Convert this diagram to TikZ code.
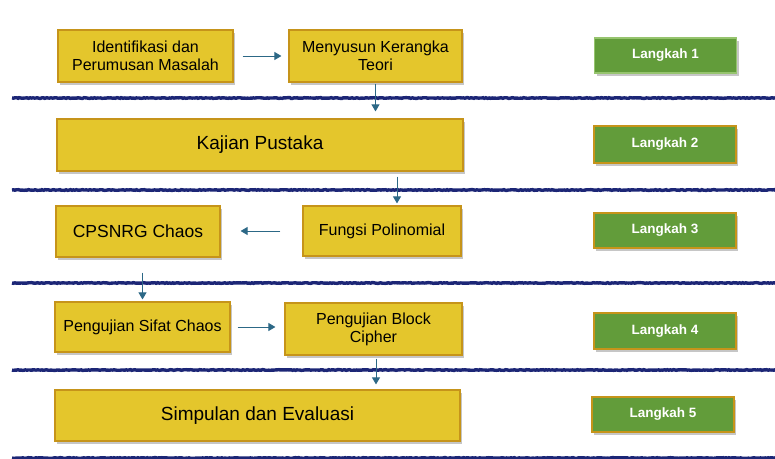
\documentclass[tikz,border=0pt]{standalone}
\usepackage{fontspec}
\setmainfont{Liberation Sans}
\usetikzlibrary{positioning,arrows.meta,shadows,decorations.pathmorphing}
\definecolor{kuning}{RGB}{228,198,44}
\definecolor{emas}{RGB}{198,148,26}
\definecolor{hijau}{RGB}{98,156,58}
\definecolor{hijaumuda}{RGB}{150,196,110}
\definecolor{panah}{RGB}{44,104,134}
\definecolor{garis}{RGB}{28,38,118}
\tikzset{
kotak/.style={
  draw=emas, fill=kuning, line width=1.2pt,
  align=center, inner sep=0pt,
  font=\fontsize{16}{18}\selectfont,
  drop shadow={shadow xshift=2pt, shadow yshift=-2.5pt, opacity=.45}
},
langkah/.style={
  kotak, fill=hijau, text=white,
  minimum width=142pt, minimum height=36pt,
  font=\fontsize{13.5}{16}\selectfont\bfseries
},
flow/.style={
  draw=panah, line width=1pt,
  -{Triangle[width=8pt,length=7pt]}
},
pemisah/.style={
  draw=garis, line width=3.4pt,
  decorate, decoration={random steps, segment length=1.5pt, amplitude=.35pt}
},
}

\begin{document}
\begin{tikzpicture}[x=1pt,y=-1pt]
\useasboundingbox (0,0) rectangle (775,458);
\foreach \y in {98,190,283,370,458}
  \draw[pemisah] (12,\y) -- (777,\y);

\node[kotak, minimum width=175pt, minimum height=52pt] (identifikasi) at (145.5,56) {Identifikasi dan\\Perumusan Masalah};
\node[kotak, minimum width=173pt, minimum height=52pt] (menyusun) at (375.5,56) {Menyusun Kerangka\\Teori};
\node[kotak, minimum width=406pt, minimum height=52pt, font=\fontsize{19}{22}\selectfont] (kajian) at (260,145) {Kajian Pustaka};
\node[kotak, minimum width=164pt, minimum height=51pt, font=\fontsize{17.5}{20}\selectfont] (cpsnrg) at (138,231.5) {CPSNRG Chaos};
\node[kotak, minimum width=158pt, minimum height=50pt] (fungsi) at (382,231) {Fungsi Polinomial};
\node[kotak, minimum width=175pt, minimum height=50pt] (sifat) at (142.5,327) {Pengujian Sifat Chaos};
\node[kotak, minimum width=177pt, minimum height=52pt] (blok) at (373.5,329) {Pengujian Block\\Cipher};
\node[kotak, minimum width=405pt, minimum height=51pt, font=\fontsize{19}{22}\selectfont] (simpulan) at (257.5,415.5) {Simpulan dan Evaluasi};

\node[langkah, draw=hijaumuda, minimum height=35pt] (langkah1) at (665.5,55.5) {Langkah 1};
\node[langkah, minimum height=37pt] (langkah2) at (665,144.5) {Langkah 2};
\node[langkah, minimum height=35pt] (langkah3) at (665,230.5) {Langkah 3};
\node[langkah] (langkah4) at (665,331) {Langkah 4};
\node[langkah, minimum height=35pt] (langkah5) at (663,414.5) {Langkah 5};

\draw[flow, shorten <=9pt, shorten >=7pt] (identifikasi.east) -- (identifikasi.east -| menyusun.west);
\draw[flow, shorten <=1pt, shorten >=7pt] (menyusun.south) -- (menyusun.south |- kajian.north);
\draw[flow, shorten <=5pt, shorten >=2pt] ([xshift=15pt]fungsi.north |- kajian.south) -- ([xshift=15pt]fungsi.north);
\draw[flow, shorten <=22pt, shorten >=20pt] (fungsi.west) -- (fungsi.west -| cpsnrg.east);
\draw[flow, shorten <=15pt, shorten >=2pt] (sifat.north |- cpsnrg.south) -- (sifat.north);
\draw[flow, shorten <=7pt, shorten >=9pt] (sifat.east) -- (sifat.east -| blok.west);
\draw[flow, shorten <=3pt, shorten >=5pt] ([xshift=2.5pt]blok.south) -- ([xshift=2.5pt]blok.south |- simpulan.north);
\end{tikzpicture}
\end{document}
